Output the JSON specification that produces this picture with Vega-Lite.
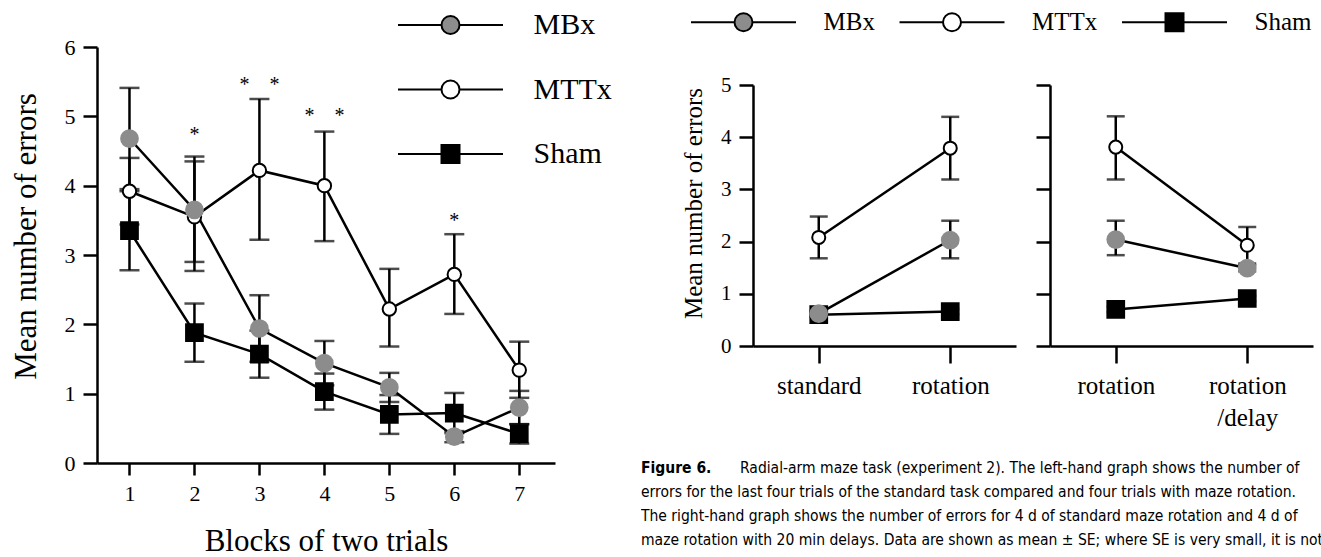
{
  "$schema": "https://vega.github.io/schema/vega-lite/v6.json",
  "background": "white",
  "padding": {"left": 10, "top": 9, "right": 0, "bottom": 0},
  "spacing": 28,
  "resolve": {"legend": {"fill": "independent", "stroke": "independent", "shape": "independent"}},
  "config": {
    "view": {"stroke": null},
    "axis": {"grid": false, "domainColor": "black", "domainWidth": 2.5, "tickColor": "black", "tickWidth": 2.5, "labelColor": "black", "titleColor": "black", "labelFont": "Liberation Serif", "titleFont": "Liberation Serif", "titleFontWeight": "normal", "labelFlush": false, "labelOverlap": false},
    "legend": {"padding": 0, "labelFont": "Liberation Serif", "labelColor": "black"}
  },
  "datasets": {
    "left": [
      {"group": "Sham", "block": 1, "mean": 3.35, "lo": 2.78, "hi": 3.92},
      {"group": "Sham", "block": 2, "mean": 1.88, "lo": 1.46, "hi": 2.30},
      {"group": "Sham", "block": 3, "mean": 1.57, "lo": 1.23, "hi": 1.91},
      {"group": "Sham", "block": 4, "mean": 1.03, "lo": 0.77, "hi": 1.29},
      {"group": "Sham", "block": 5, "mean": 0.70, "lo": 0.42, "hi": 0.98},
      {"group": "Sham", "block": 6, "mean": 0.72, "lo": 0.43, "hi": 1.01},
      {"group": "Sham", "block": 7, "mean": 0.42, "lo": 0.28, "hi": 0.56},
      {"group": "MTTx", "block": 1, "mean": 3.92, "lo": 3.44, "hi": 4.40},
      {"group": "MTTx", "block": 2, "mean": 3.55, "lo": 2.77, "hi": 4.35},
      {"group": "MTTx", "block": 3, "mean": 4.22, "lo": 3.22, "hi": 5.25},
      {"group": "MTTx", "block": 4, "mean": 4.00, "lo": 3.20, "hi": 4.78},
      {"group": "MTTx", "block": 5, "mean": 2.22, "lo": 1.68, "hi": 2.80},
      {"group": "MTTx", "block": 6, "mean": 2.72, "lo": 2.15, "hi": 3.30},
      {"group": "MTTx", "block": 7, "mean": 1.34, "lo": 0.94, "hi": 1.75},
      {"group": "MBx", "block": 1, "mean": 4.68, "lo": 3.95, "hi": 5.41},
      {"group": "MBx", "block": 2, "mean": 3.65, "lo": 2.90, "hi": 4.42},
      {"group": "MBx", "block": 3, "mean": 1.94, "lo": 1.46, "hi": 2.42},
      {"group": "MBx", "block": 4, "mean": 1.44, "lo": 1.12, "hi": 1.76},
      {"group": "MBx", "block": 5, "mean": 1.09, "lo": 0.88, "hi": 1.30},
      {"group": "MBx", "block": 6, "mean": 0.38, "lo": 0.30, "hi": 0.46},
      {"group": "MBx", "block": 7, "mean": 0.80, "lo": 0.56, "hi": 1.04}
    ],
    "stars": [
      {"block": 2, "y": 4.8, "label": "*"},
      {"block": 3, "y": 5.52, "label": "*\u00a0\u00a0\u00a0\u00a0*"},
      {"block": 4, "y": 5.07, "label": "*\u00a0\u00a0\u00a0\u00a0*"},
      {"block": 6, "y": 3.56, "label": "*"}
    ],
    "panelA": [
      {"group": "Sham", "cond": "standard", "mean": 0.60, "lo": 0.55, "hi": 0.65},
      {"group": "Sham", "cond": "rotation", "mean": 0.66, "lo": 0.61, "hi": 0.71},
      {"group": "MTTx", "cond": "standard", "mean": 2.08, "lo": 1.68, "hi": 2.48},
      {"group": "MTTx", "cond": "rotation", "mean": 3.79, "lo": 3.19, "hi": 4.39},
      {"group": "MBx", "cond": "standard", "mean": 0.62, "lo": 0.56, "hi": 0.68},
      {"group": "MBx", "cond": "rotation", "mean": 2.03, "lo": 1.68, "hi": 2.40}
    ],
    "panelB": [
      {"group": "Sham", "cond": "rotation", "mean": 0.70, "lo": 0.65, "hi": 0.75},
      {"group": "Sham", "cond": "rotation/delay", "mean": 0.91, "lo": 0.86, "hi": 0.96},
      {"group": "MTTx", "cond": "rotation", "mean": 3.81, "lo": 3.19, "hi": 4.40},
      {"group": "MTTx", "cond": "rotation/delay", "mean": 1.93, "lo": 1.58, "hi": 2.28},
      {"group": "MBx", "cond": "rotation", "mean": 2.04, "lo": 1.74, "hi": 2.40},
      {"group": "MBx", "cond": "rotation/delay", "mean": 1.49, "lo": 1.43, "hi": 1.55}
    ],
    "caption": [
      {"line": 1, "part": "head", "text": "Figure 6."},
      {"line": 1, "part": "first", "text": "Radial-arm maze task (experiment 2). The left-hand graph shows the number of"},
      {"line": 2, "part": "body", "text": "errors for the last four trials of the standard task compared and four trials with maze rotation."},
      {"line": 3, "part": "body", "text": "The right-hand graph shows the number of errors for 4 d of standard maze rotation and 4 d of"},
      {"line": 4, "part": "body", "text": "maze rotation with 20 min delays. Data are shown as mean ± SE; where SE is very small, it is not"}
    ]
  },
  "hconcat": [
    {
      "width": 458,
      "height": 416,
      "data": {"name": "left"},
      "encoding": {
        "x": {"field": "block", "type": "quantitative", "scale": {"domain": [0.5, 7.55], "nice": false, "zero": false},
          "axis": {"values": [1, 2, 3, 4, 5, 6, 7], "format": "d", "tickSize": 12, "labelFontSize": 22, "labelPadding": 8, "title": "Blocks of two trials", "titleFontSize": 31, "titlePadding": 22}}
      },
      "layer": [
        {
          "mark": {"type": "rule", "color": "black", "strokeWidth": 2.5},
          "encoding": {
            "y": {"field": "lo", "type": "quantitative", "title": "Mean number of errors", "scale": {"domain": [0, 6], "nice": false, "zero": false},
              "axis": {"values": [0, 1, 2, 3, 4, 5, 6], "format": "d", "tickSize": 14, "labelFontSize": 22, "labelPadding": 8, "title": "Mean number of errors", "titleFontSize": 31, "titlePadding": 22, "titleY": 189}},
            "y2": {"field": "hi"}
          }
        },
        {
          "mark": {"type": "tick", "orient": "horizontal", "size": 20, "thickness": 2.5, "color": "black"},
          "encoding": {"y": {"field": "lo", "type": "quantitative", "title": "Mean number of errors"}}
        },
        {
          "mark": {"type": "tick", "orient": "horizontal", "size": 20, "thickness": 2.5, "color": "black"},
          "encoding": {"y": {"field": "hi", "type": "quantitative", "title": "Mean number of errors"}}
        },
        {
          "mark": {"type": "line", "color": "black", "strokeWidth": 2.5},
          "encoding": {"y": {"field": "mean", "type": "quantitative", "title": "Mean number of errors"}, "detail": {"field": "group"}}
        },
        {
          "transform": [{"filter": "datum.group === 'MTTx'"}],
          "mark": {"type": "point", "filled": true, "opacity": 1, "strokeWidth": 2, "size": 180},
          "encoding": {
            "y": {"field": "mean", "type": "quantitative", "title": "Mean number of errors"},
            "shape": {"field": "group", "type": "nominal", "scale": {"domain": ["Sham", "MBx", "MTTx"], "range": ["square", "circle", "circle"]}, "legend": null},
            "stroke": {"field": "group", "type": "nominal", "scale": {"domain": ["MTTx", "Sham", "MBx"], "range": ["#000000", "#000000", "#8c8c8c"]}, "legend": null},
            "fill": {"field": "group", "type": "nominal", "scale": {"domain": ["MBx", "MTTx", "Sham"], "range": ["#8c8c8c", "#ffffff", "#000000"]},
              "legend": {"title": null, "orient": "none", "legendX": 338.5, "legendY": -37, "direction": "vertical", "labelFontSize": 30, "labelOffset": 68, "rowPadding": 34.5, "symbolSize": 324, "symbolStrokeWidth": 2,
                "encoding": {"symbols": {"shape": {"value": {"expr": "datum.value === 'Sham' ? 'M-5.833,0H-1M1,0H5.833M-1,-1H1V1H-1Z' : 'M-5.833,0H-1M1,0H5.833M1,0C1,0.552,0.552,1,0,1C-0.552,1,-1,0.552,-1,0C-1,-0.552,-0.552,-1,0,-1C0.552,-1,1,-0.552,1,0Z'"}}, "stroke": {"value": "black"}, "strokeWidth": {"value": 2}, "size": {"value": 324}, "opacity": {"value": 1}}}}}
          }
        },
        {
          "transform": [{"filter": "datum.group !== 'MTTx'"}],
          "mark": {"type": "point", "filled": true, "opacity": 1, "strokeWidth": 2, "size": 280},
          "encoding": {
            "y": {"field": "mean", "type": "quantitative", "title": "Mean number of errors"},
            "shape": {"field": "group", "type": "nominal", "scale": {"domain": ["Sham", "MBx", "MTTx"], "range": ["square", "circle", "circle"]}, "legend": null},
            "stroke": {"field": "group", "type": "nominal", "scale": {"domain": ["MTTx", "Sham", "MBx"], "range": ["#000000", "#000000", "#8c8c8c"]}, "legend": null},
            "fill": {"field": "group", "type": "nominal", "scale": {"domain": ["MBx", "MTTx", "Sham"], "range": ["#8c8c8c", "#ffffff", "#000000"]},
              "legend": {"title": null, "orient": "none", "legendX": 338.5, "legendY": -37, "direction": "vertical", "labelFontSize": 30, "labelOffset": 68, "rowPadding": 34.5, "symbolSize": 324, "symbolStrokeWidth": 2,
                "encoding": {"symbols": {"shape": {"value": {"expr": "datum.value === 'Sham' ? 'M-5.833,0H-1M1,0H5.833M-1,-1H1V1H-1Z' : 'M-5.833,0H-1M1,0H5.833M1,0C1,0.552,0.552,1,0,1C-0.552,1,-1,0.552,-1,0C-1,-0.552,-0.552,-1,0,-1C0.552,-1,1,-0.552,1,0Z'"}}, "stroke": {"value": "black"}, "strokeWidth": {"value": 2}, "size": {"value": 324}, "opacity": {"value": 1}}}}}
          }
        },
        {
          "data": {"name": "stars"},
          "mark": {"type": "text", "font": "Liberation Serif", "fontSize": 20, "baseline": "alphabetic", "dy": 11, "color": "black"},
          "encoding": {"y": {"field": "y", "type": "quantitative", "title": "Mean number of errors"}, "text": {"field": "label"}}
        }
      ]
    },
    {
      "spacing": 24,
      "resolve": {"legend": {"fill": "independent", "stroke": "independent", "shape": "independent"}},
      "vconcat": [
        {
          "width": 560,
          "height": 3,
          "data": {"values": []},
          "mark": {"type": "point", "filled": true, "opacity": 1},
          "encoding": {
            "fill": {"field": "group", "type": "nominal", "scale": {"domain": ["MBx", "MTTx", "Sham"], "range": ["#8c8c8c", "#ffffff", "#000000"]},
              "legend": {"title": null, "orient": "none", "legendX": 90, "legendY": -37.5, "direction": "horizontal", "columns": 3, "labelFontSize": 25, "labelOffset": 67.5, "columnPadding": 20.5, "symbolSize": 324, "symbolStrokeWidth": 2,
                "encoding": {"symbols": {"shape": {"value": {"expr": "datum.value === 'Sham' ? 'M-5.833,0H-1M1,0H5.833M-1,-1H1V1H-1Z' : 'M-5.833,0H-1M1,0H5.833M1,0C1,0.552,0.552,1,0,1C-0.552,1,-1,0.552,-1,0C-1,-0.552,-0.552,-1,0,-1C0.552,-1,1,-0.552,1,0Z'"}}, "stroke": {"value": "black"}, "strokeWidth": {"value": 2}, "size": {"value": 324}, "opacity": {"value": 1}}}}}
          }
        },
        {
          "bounds": "flush",
          "spacing": 34,
          "hconcat": [
            {"width": 78, "height": 261, "data": {"values": []}, "mark": "point"},
            {
              "width": 263,
              "height": 261,
              "data": {"name": "panelA"},
              "encoding": {
                "x": {"field": "cond", "type": "ordinal", "scale": {"type": "point", "padding": 0.5, "domain": ["standard", "rotation"]},
                  "axis": {"title": null, "labelAngle": 0, "tickSize": 17, "labelFontSize": 25, "labelPadding": 10}}
              },
              "layer": [
                {
                  "mark": {"type": "rule", "color": "black", "strokeWidth": 2.5},
                  "encoding": {
                    "y": {"field": "lo", "type": "quantitative", "title": "Mean number of errors", "scale": {"domain": [0, 5], "nice": false, "zero": false},
                      "axis": {"values": [0, 1, 2, 3, 4, 5], "format": "d", "tickSize": 14, "labelFontSize": 21, "labelPadding": 8, "title": "Mean number of errors", "titleFontSize": 25, "titlePadding": 14, "titleY": 118}},
                    "y2": {"field": "hi"}
                  }
                },
                {
                  "mark": {"type": "tick", "orient": "horizontal", "size": 18, "thickness": 2.5, "color": "black"},
                  "encoding": {"y": {"field": "lo", "type": "quantitative", "title": "Mean number of errors"}}
                },
                {
                  "mark": {"type": "tick", "orient": "horizontal", "size": 18, "thickness": 2.5, "color": "black"},
                  "encoding": {"y": {"field": "hi", "type": "quantitative", "title": "Mean number of errors"}}
                },
                {
                  "mark": {"type": "line", "color": "black", "strokeWidth": 2.5},
                  "encoding": {"y": {"field": "mean", "type": "quantitative", "title": "Mean number of errors"}, "detail": {"field": "group"}}
                },
                {
                  "transform": [{"filter": "datum.group === 'MTTx'"}],
                  "mark": {"type": "point", "filled": true, "opacity": 1, "strokeWidth": 2, "size": 170},
                  "encoding": {
                    "y": {"field": "mean", "type": "quantitative", "title": "Mean number of errors"},
                    "shape": {"field": "group", "type": "nominal", "scale": {"domain": ["Sham", "MBx", "MTTx"], "range": ["square", "circle", "circle"]}, "legend": null},
                    "fill": {"field": "group", "type": "nominal", "scale": {"domain": ["MBx", "MTTx", "Sham"], "range": ["#8c8c8c", "#ffffff", "#000000"]}, "legend": null},
                    "stroke": {"field": "group", "type": "nominal", "scale": {"domain": ["MTTx", "Sham", "MBx"], "range": ["#000000", "#000000", "#8c8c8c"]}, "legend": null}
                  }
                },
                {
                  "transform": [{"filter": "datum.group !== 'MTTx'"}],
                  "mark": {"type": "point", "filled": true, "opacity": 1, "strokeWidth": 2, "size": 280},
                  "encoding": {
                    "y": {"field": "mean", "type": "quantitative", "title": "Mean number of errors"},
                    "shape": {"field": "group", "type": "nominal", "scale": {"domain": ["Sham", "MBx", "MTTx"], "range": ["square", "circle", "circle"]}, "legend": null},
                    "fill": {"field": "group", "type": "nominal", "scale": {"domain": ["MBx", "MTTx", "Sham"], "range": ["#8c8c8c", "#ffffff", "#000000"]}, "legend": null},
                    "stroke": {"field": "group", "type": "nominal", "scale": {"domain": ["MTTx", "Sham", "MBx"], "range": ["#000000", "#000000", "#8c8c8c"]}, "legend": null}
                  }
                }
              ]
            },
            {
              "width": 263,
              "height": 261,
              "data": {"name": "panelB"},
              "encoding": {
                "x": {"field": "cond", "type": "ordinal", "scale": {"type": "point", "padding": 0.5, "domain": ["rotation", "rotation/delay"]},
                  "axis": {"title": null, "labelAngle": 0, "tickSize": 17, "labelFontSize": 25, "labelPadding": 10, "labelLineHeight": 32, "labelBaseline": "top", "labelExpr": "datum.value === 'rotation/delay' ? ['rotation', '/delay'] : datum.label"}}
              },
              "layer": [
                {
                  "mark": {"type": "rule", "color": "black", "strokeWidth": 2.5},
                  "encoding": {
                    "y": {"field": "lo", "type": "quantitative", "title": null, "scale": {"domain": [0, 5], "nice": false, "zero": false},
                      "axis": {"values": [0, 1, 2, 3, 4, 5], "tickSize": 14, "labels": false, "title": null}},
                    "y2": {"field": "hi"}
                  }
                },
                {
                  "mark": {"type": "tick", "orient": "horizontal", "size": 18, "thickness": 2.5, "color": "black"},
                  "encoding": {"y": {"field": "lo", "type": "quantitative", "title": null}}
                },
                {
                  "mark": {"type": "tick", "orient": "horizontal", "size": 18, "thickness": 2.5, "color": "black"},
                  "encoding": {"y": {"field": "hi", "type": "quantitative", "title": null}}
                },
                {
                  "mark": {"type": "line", "color": "black", "strokeWidth": 2.5},
                  "encoding": {"y": {"field": "mean", "type": "quantitative", "title": null}, "detail": {"field": "group"}}
                },
                {
                  "transform": [{"filter": "datum.group === 'MTTx'"}],
                  "mark": {"type": "point", "filled": true, "opacity": 1, "strokeWidth": 2, "size": 170},
                  "encoding": {
                    "y": {"field": "mean", "type": "quantitative", "title": null},
                    "shape": {"field": "group", "type": "nominal", "scale": {"domain": ["Sham", "MBx", "MTTx"], "range": ["square", "circle", "circle"]}, "legend": null},
                    "fill": {"field": "group", "type": "nominal", "scale": {"domain": ["MBx", "MTTx", "Sham"], "range": ["#8c8c8c", "#ffffff", "#000000"]}, "legend": null},
                    "stroke": {"field": "group", "type": "nominal", "scale": {"domain": ["MTTx", "Sham", "MBx"], "range": ["#000000", "#000000", "#8c8c8c"]}, "legend": null}
                  }
                },
                {
                  "transform": [{"filter": "datum.group !== 'MTTx'"}],
                  "mark": {"type": "point", "filled": true, "opacity": 1, "strokeWidth": 2, "size": 280},
                  "encoding": {
                    "y": {"field": "mean", "type": "quantitative", "title": null},
                    "shape": {"field": "group", "type": "nominal", "scale": {"domain": ["Sham", "MBx", "MTTx"], "range": ["square", "circle", "circle"]}, "legend": null},
                    "fill": {"field": "group", "type": "nominal", "scale": {"domain": ["MBx", "MTTx", "Sham"], "range": ["#8c8c8c", "#ffffff", "#000000"]}, "legend": null},
                    "stroke": {"field": "group", "type": "nominal", "scale": {"domain": ["MTTx", "Sham", "MBx"], "range": ["#000000", "#000000", "#8c8c8c"]}, "legend": null}
                  }
                }
              ]
            }
          ]
        },
        {
          "width": 681,
          "height": 102,
          "data": {"name": "caption"},
          "encoding": {
            "y": {"field": "line", "type": "quantitative", "scale": {"domain": [0.417, 4.667], "reverse": true, "nice": false, "zero": false}, "axis": null},
            "x": {"value": 0},
            "text": {"field": "text"}
          },
          "layer": [
            {
              "transform": [{"filter": "datum.part === 'head'"}],
              "mark": {"type": "text", "align": "left", "baseline": "middle", "font": "DejaVu Sans Condensed, sans-serif", "fontSize": 15.5, "fontWeight": "bold", "color": "black", "clip": true}
            },
            {
              "transform": [{"filter": "datum.part === 'first'"}],
              "mark": {"type": "text", "align": "left", "baseline": "middle", "dx": 99, "font": "DejaVu Sans Condensed, sans-serif", "fontSize": 15.5, "color": "black", "clip": true}
            },
            {
              "transform": [{"filter": "datum.part === 'body'"}],
              "mark": {"type": "text", "align": "left", "baseline": "middle", "font": "DejaVu Sans Condensed, sans-serif", "fontSize": 15.5, "color": "black", "clip": true}
            }
          ]
        }
      ]
    }
  ]
}
